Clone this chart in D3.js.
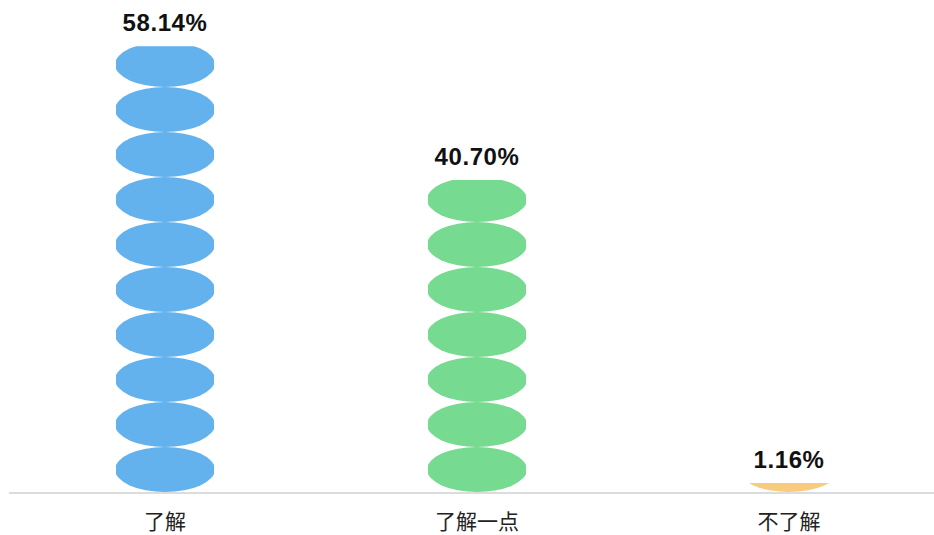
<!DOCTYPE html>
<html><head><meta charset="utf-8">
<script src="https://cdn.jsdelivr.net/npm/d3@7"></script>
<style>html,body{margin:0;padding:0;background:#fff;overflow:hidden}</style>
</head><body>
<svg id="c" width="934" height="535"></svg>
<script>
const categories = ["了解", "了解一点", "不了解"];
const values = [58.14, 40.70, 1.16];
const colors = ["#63b2ee", "#76da91", "#f8cb7f"];

const svg = d3.select("#c");
const W = 934, H = 535;
const margin = {left: 9, right: -11, top: 32, bottom: 43};
const x = d3.scaleBand().domain(categories).range([margin.left, W - margin.right]).padding(0);
const y = d3.scaleLinear().domain([0, 60]).range([H - margin.bottom, margin.top]);
const base = y(0);
const symH = 45, symRx = 50, halfW = 49;

const defs = svg.append("defs");
categories.forEach((c, i) => {
  const cx = x(c) + x.bandwidth() / 2;
  const top = y(values[i]);
  const id = "clip" + i;
  defs.append("clipPath").attr("id", id).append("rect")
    .attr("x", cx - halfW).attr("y", top).attr("width", halfW * 2).attr("height", base - top);
  const n = Math.ceil((base - top) / symH);
  const g = svg.append("g").attr("clip-path", `url(#${id})`);
  g.selectAll("ellipse").data(d3.range(n)).join("ellipse")
    .attr("cx", cx).attr("cy", k => base - symH / 2 - k * symH)
    .attr("rx", symRx).attr("ry", symH / 2)
    .attr("fill", colors[i]);
  svg.append("text").attr("x", cx).attr("y", top - 15)
    .attr("text-anchor", "middle")
    .attr("font-family", "Liberation Sans, Arial, sans-serif")
    .attr("font-weight", "bold").attr("font-size", 24).attr("fill", "#111")
    .attr("letter-spacing", 0.6)
    .text(values[i].toFixed(2) + "%");
});

svg.append("line").attr("x1", margin.left).attr("x2", W).attr("y1", base + 1).attr("y2", base + 1)
  .attr("stroke", "#dcdcdc").attr("stroke-width", 2);

svg.append("g").selectAll("text").data(categories).join("text")
  .attr("x", d => x(d) + x.bandwidth() / 2).attr("y", 529)
  .attr("text-anchor", "middle")
  .attr("font-family", "Noto Sans CJK SC, sans-serif").attr("font-size", 21).attr("fill", "#222")
  .text(d => d);
</script>
</body></html>
